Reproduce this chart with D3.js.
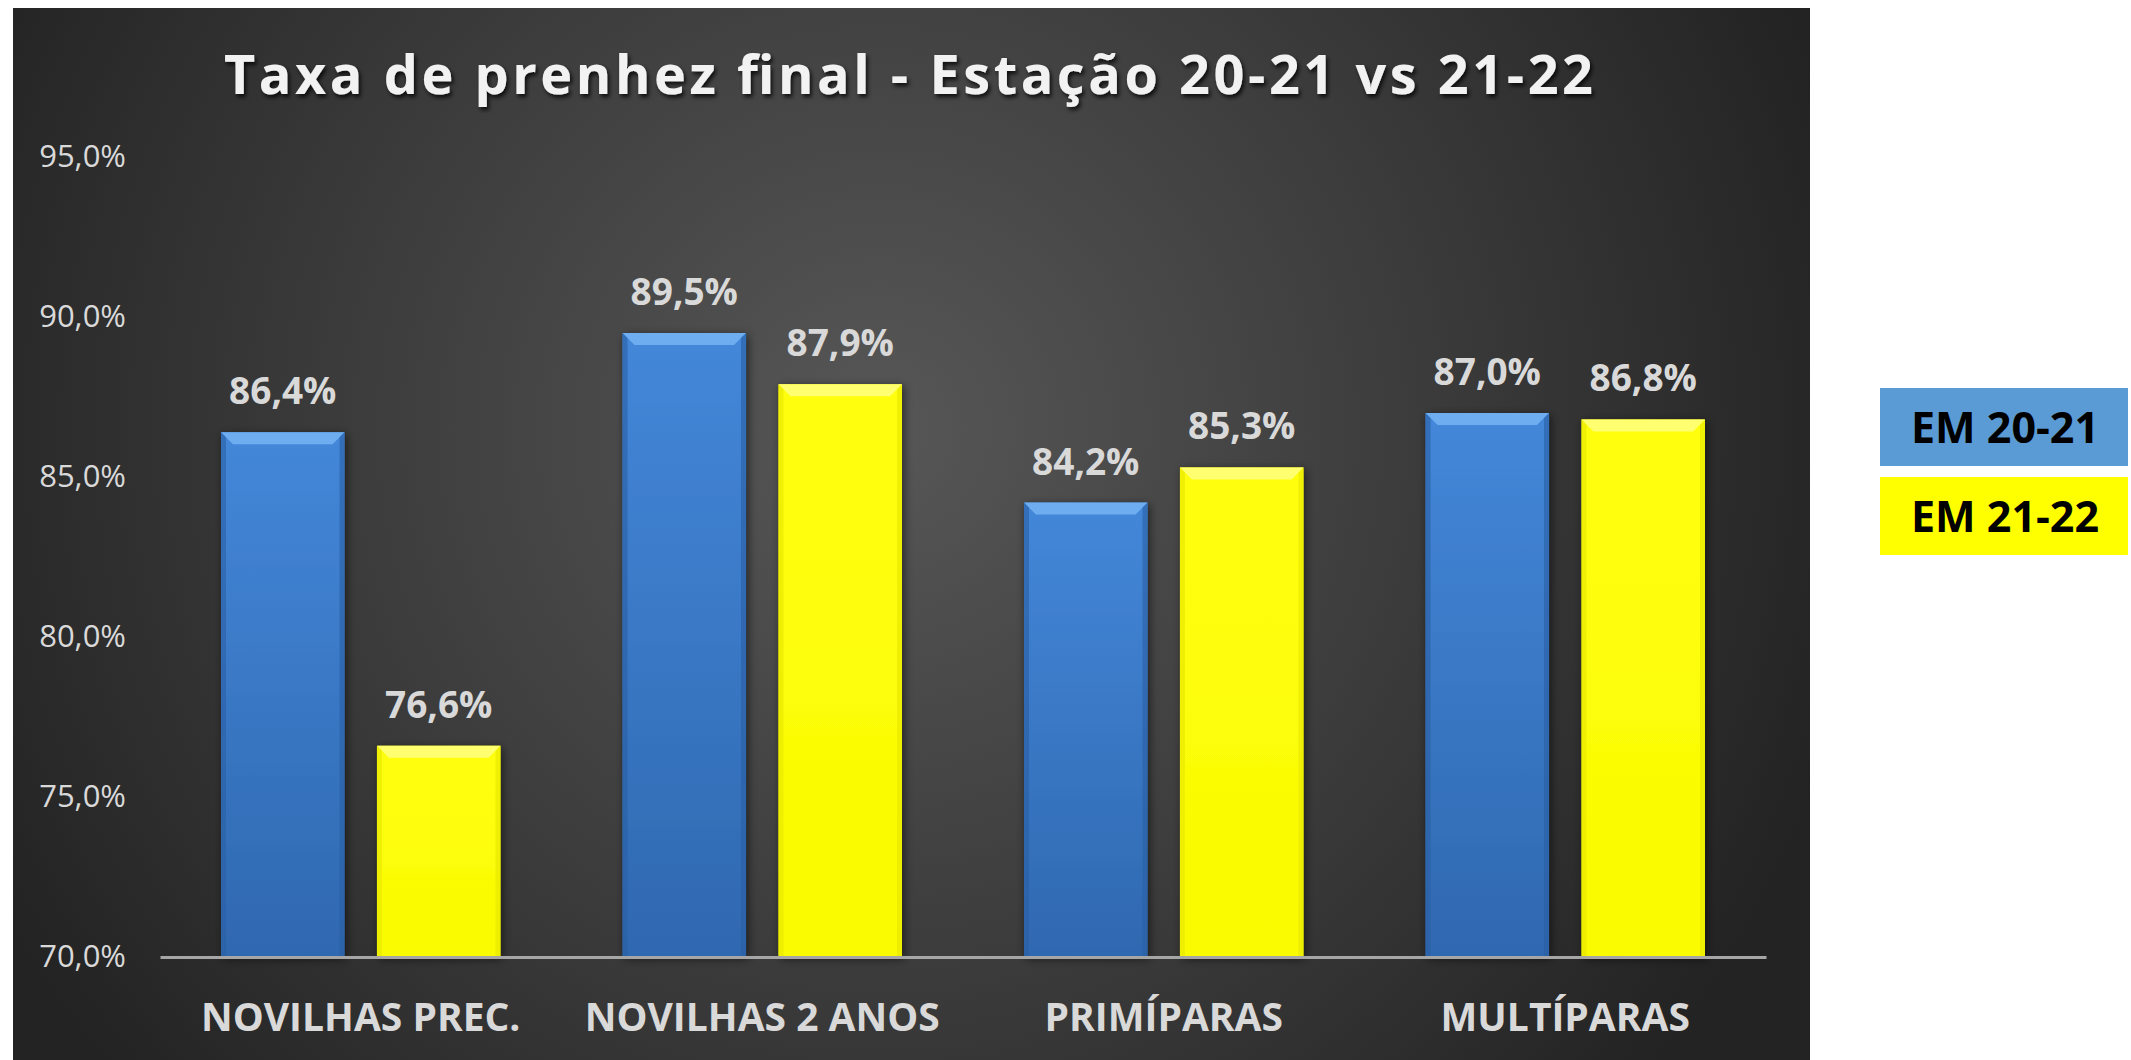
<!DOCTYPE html>
<html>
<head>
<meta charset="utf-8">
<script src="https://cdn.jsdelivr.net/npm/d3@7"></script>
<style>
    body { margin: 0; background: #fff; }
    svg { display: block; }
    text { font-family: 'Open Sans', 'DejaVu Sans', sans-serif; }
</style>
</head>
<body>
<svg></svg>
<script>
// data
var categories = ['NOVILHAS PREC.', 'NOVILHAS 2 ANOS', 'PRIMÍPARAS', 'MULTÍPARAS'];
var seriesNames = ['EM 20-21', 'EM 21-22'];
var em2021 = [86.4, 89.5, 84.2, 87.0];
var em2122 = [76.6, 87.9, 85.3, 86.8];
var yTicks = [70, 75, 80, 85, 90, 95];
var title = 'Taxa de prenhez final - Estação 20-21 vs 21-22';

var width = 2131, height = 1060;

var ptBR = d3.formatLocale({ decimal: ',', thousands: '.', grouping: [3], currency: ['R$', ''] });
var fmt = function(v) { return ptBR.format('.1f')(v) + '%'; };

var svg = d3.select('svg')
    .attr('width', width)
    .attr('height', height);

var defs = svg.append('defs');

var bg = defs.append('radialGradient')
    .attr('id', 'bgGrad')
    .attr('gradientUnits', 'userSpaceOnUse')
    .attr('cx', 880).attr('cy', 430).attr('r', 1000);
bg.append('stop').attr('offset', '0%').attr('stop-color', '#575757');
bg.append('stop').attr('offset', '55%').attr('stop-color', '#3b3b3b');
bg.append('stop').attr('offset', '100%').attr('stop-color', '#232323');

var blueGrad = defs.append('linearGradient')
    .attr('id', 'blueGrad').attr('x1', 0).attr('y1', 0).attr('x2', 0).attr('y2', 1);
blueGrad.append('stop').attr('offset', '0%').attr('stop-color', '#4487d9');
blueGrad.append('stop').attr('offset', '100%').attr('stop-color', '#2f68b0');

var yellowGrad = defs.append('linearGradient')
    .attr('id', 'yellowGrad').attr('x1', 0).attr('y1', 0).attr('x2', 0).attr('y2', 1);
yellowGrad.append('stop').attr('offset', '0%').attr('stop-color', '#ffff10');
yellowGrad.append('stop').attr('offset', '100%').attr('stop-color', '#fafa00');

var shadow = defs.append('filter').attr('id', 'barShadow')
    .attr('x', '-20%').attr('y', '-10%').attr('width', '140%').attr('height', '120%');
shadow.append('feDropShadow')
    .attr('dx', 2).attr('dy', 2).attr('stdDeviation', 5)
    .attr('flood-color', '#000').attr('flood-opacity', 0.55);

var textShadow = defs.append('filter').attr('id', 'textShadow')
    .attr('x', '-5%').attr('y', '-30%').attr('width', '110%').attr('height', '160%');
textShadow.append('feDropShadow')
    .attr('dx', 2).attr('dy', 3).attr('stdDeviation', 2)
    .attr('flood-color', '#000').attr('flood-opacity', 0.8);

// dark chart panel
svg.append('rect')
    .attr('x', 13).attr('y', 8)
    .attr('width', 1810 - 13).attr('height', height - 8)
    .attr('fill', 'url(#bgGrad)');

svg.append('text')
    .attr('x', 224).attr('y', 94)
    .attr('textLength', 1369)
    .attr('lengthAdjust', 'spacing')
    .attr('font-size', 54)
    .attr('font-weight', 700)
    .attr('fill', '#f2f2f2')
    .attr('filter', 'url(#textShadow)')
    .text(title);

var y = d3.scaleLinear()
    .domain([70, 95])
    .range([957, 157]);

var x0 = d3.scaleBand()
    .domain(categories)
    .range([160, 1766])
    .paddingInner(0)
    .paddingOuter(0);

var x1 = d3.scaleBand()
    .domain(seriesNames)
    .range([61, x0.bandwidth() - 61])
    .paddingInner(0.208)
    .paddingOuter(0);

// y axis: labels only
var yAxis = svg.append('g')
    .attr('transform', 'translate(126,0)')
    .call(d3.axisLeft(y).tickValues(yTicks).tickSize(0).tickPadding(0)
        .tickFormat(function(d) { return ptBR.format('.1f')(d) + '%'; }));
yAxis.select('.domain').remove();
yAxis.selectAll('text')
    .attr('font-family', "'Open Sans', sans-serif")
    .attr('font-size', 31)
    .attr('fill', '#d9d9d9');

var rows = categories.map(function(c, i) {
    return { cat: c, values: [
        { series: seriesNames[0], value: em2021[i] },
        { series: seriesNames[1], value: em2122[i] }
    ] };
});

var groups = svg.append('g').selectAll('g')
    .data(rows)
    .enter()
    .append('g')
    .attr('transform', function(d) { return 'translate(' + x0(d.cat) + ',0)'; });

var bars = groups.selectAll('g')
    .data(function(d) { return d.values; })
    .enter()
    .append('g');

var bw = x1.bandwidth(), bev = 12;

bars.append('rect')
    .attr('x', function(d) { return x1(d.series); })
    .attr('y', function(d) { return y(d.value); })
    .attr('width', bw)
    .attr('height', function(d) { return y(70) - y(d.value); })
    .attr('fill', function(d) { return d.series === seriesNames[0] ? 'url(#blueGrad)' : 'url(#yellowGrad)'; })
    .attr('filter', 'url(#barShadow)');

// top bevel
bars.append('path')
    .attr('d', function(d) {
        var bx = x1(d.series), by = y(d.value);
        return 'M' + bx + ',' + by + 'L' + (bx + bw) + ',' + by +
            'L' + (bx + bw - bev) + ',' + (by + bev) + 'L' + (bx + bev) + ',' + (by + bev) + 'Z';
    })
    .attr('fill', function(d) { return d.series === seriesNames[0] ? '#6eaef0' : '#ffff70'; });

// side edges
bars.append('path')
    .attr('d', function(d) {
        var bx = x1(d.series), by = y(d.value), bb = y(70), s = 5;
        return 'M' + bx + ',' + by + 'L' + (bx + s) + ',' + (by + s) + 'L' + (bx + s) + ',' + bb + 'L' + bx + ',' + bb + 'Z' +
            'M' + (bx + bw) + ',' + by + 'L' + (bx + bw - s) + ',' + (by + s) + 'L' + (bx + bw - s) + ',' + bb + 'L' + (bx + bw) + ',' + bb + 'Z';
    })
    .attr('fill', function(d) { return d.series === seriesNames[0] ? '#2a5fa3' : '#e6e600'; })
    .attr('opacity', 0.6);

// value labels
bars.append('text')
    .attr('x', function(d) { return x1(d.series) + bw / 2; })
    .attr('y', function(d) { return y(d.value) - 28; })
    .attr('text-anchor', 'middle')
    .attr('font-size', 37)
    .attr('font-weight', 700)
    .attr('fill', '#d9d9d9')
    .text(function(d) { return fmt(d.value); });

// category axis
var xAxis = svg.append('g')
    .attr('transform', 'translate(0,' + y(70) + ')')
    .call(d3.axisBottom(x0).tickSize(0).tickPadding(0).tickSizeOuter(0));
xAxis.select('.domain')
    .attr('stroke', '#a6a6a6')
    .attr('stroke-width', 3);
xAxis.selectAll('text')
    .attr('dy', null)
    .attr('y', 74)
    .attr('font-family', "'Open Sans', sans-serif")
    .attr('font-size', 39)
    .attr('font-weight', 700)
    .attr('fill', '#d9d9d9');

// legend outside the panel
var legendColors = ['#5b9bd5', '#ffff00'];
var legend = svg.append('g').selectAll('g')
    .data(seriesNames)
    .enter()
    .append('g')
    .attr('transform', function(d, i) { return 'translate(1880,' + (388 + i * 89) + ')'; });

legend.append('rect')
    .attr('width', 248)
    .attr('height', 78)
    .attr('fill', function(d, i) { return legendColors[i]; });

legend.append('text')
    .attr('x', 125)
    .attr('y', 55)
    .attr('text-anchor', 'middle')
    .attr('font-size', 43)
    .attr('font-weight', 700)
    .attr('fill', '#000')
    .text(function(d) { return d; });
</script>
</body>
</html>
